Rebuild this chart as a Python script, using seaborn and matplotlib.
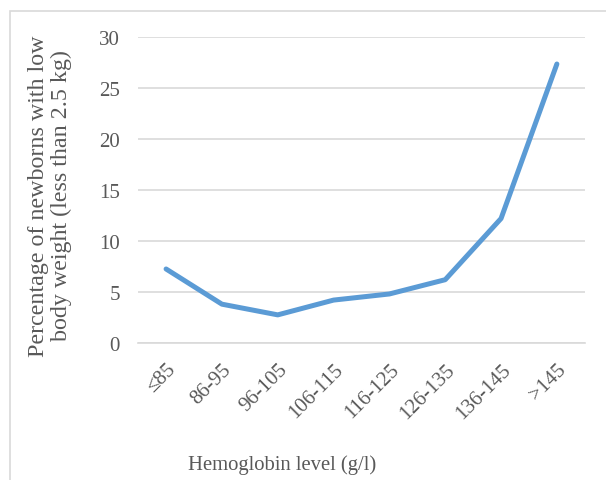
import matplotlib
matplotlib.use("Agg")
from matplotlib import pyplot as plt
from matplotlib.patches import Rectangle
import seaborn as sns
import pandas as pd

# Hemoglobin level groups and share of low birth weight newborns (%)
levels = ["≤85", "86-95", "96-105", "106-115", "116-125", "126-135", "136-145", ">145"]
low_weight_pct = [7.25, 3.8, 2.75, 4.2, 4.8, 6.2, 12.2, 27.35]

df = pd.DataFrame({"level": levels, "pct": low_weight_pct})

sns.set_style("white")
plt.rcParams["font.family"] = ["Liberation Serif", "DejaVu Serif"]

grey = "#595959"
fig = plt.figure(figsize=(6.06, 4.81), dpi=100)
ax = fig.add_axes([0.228, 0.285, 0.737, 0.636])

# light frame around the chart
fig.patches.append(Rectangle((10 / 606, -0.1), 1.2, 1 - 12 / 481 + 0.1,
                             transform=fig.transFigure, fill=False,
                             edgecolor="#d9d9d9", linewidth=1.2))

sns.lineplot(data=df, x="level", y="pct", sort=False, color="#5b9bd5",
             linewidth=3.6, ax=ax)

ax.set_ylim(0, 30)
ax.set_xlim(-0.5, len(levels) - 0.5)
ax.set_yticks(range(0, 31, 5))
ax.yaxis.grid(True, color="#d9d9d9", linewidth=1.2)
ax.set_axisbelow(True)
for s in ["top", "right", "left"]:
    ax.spines[s].set_visible(False)
ax.spines["bottom"].set_color("#d9d9d9")
ax.spines["bottom"].set_linewidth(1.2)
ax.tick_params(axis="both", length=0, labelsize=15, colors=grey)
ax.tick_params(axis="y", pad=13)
ax.tick_params(axis="x", pad=12)
plt.setp(ax.get_xticklabels(), rotation=45, ha="right", rotation_mode="anchor")

ax.set_xlabel("")
ax.set_ylabel("")
fig.text(282 / 606, 1 - 465 / 481, "Hemoglobin level (g/l)", fontsize=14.9,
         color=grey, ha="center", va="center")
fig.text(50 / 606, 1 - 196 / 481,
         "Percentage of newborns with low\nbody weight (less than 2.5 kg)",
         fontsize=17.3, color=grey, rotation=90, ha="center", va="center",
         linespacing=1.15)

fig.savefig("out.png", dpi=100)
